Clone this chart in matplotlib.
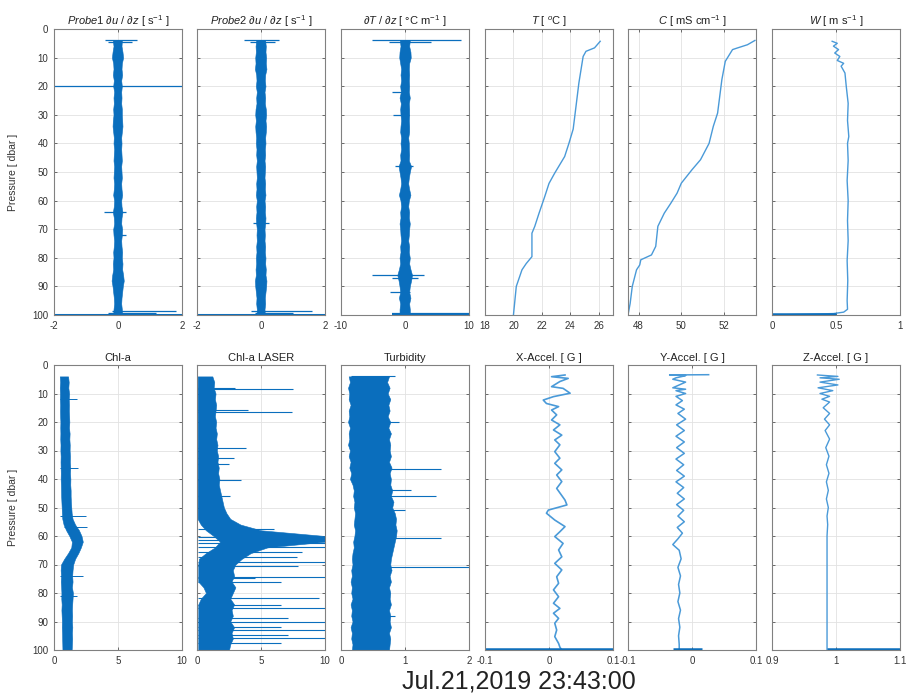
import matplotlib.pyplot as plt

plt.rcParams['font.family'] = ['Liberation Sans', 'DejaVu Sans']
plt.rcParams['mathtext.fontset'] = 'custom'
plt.rcParams['mathtext.rm'] = 'Liberation Sans'
plt.rcParams['mathtext.it'] = 'Liberation Sans:italic'

BLUE = '#0a6ebd'
LINE = '#4a9ad8'

# pressure grid for the noisy bands [dbar]
P_ENV = [4, 6, 8, 10, 12, 14, 16,
         18, 20, 22, 24, 26, 28, 30,
         32, 34, 36, 38, 40, 42, 44,
         46, 48, 50, 52, 54, 56, 58,
         60, 62, 64, 66, 68, 70, 72,
         74, 76, 78, 80, 82, 84, 86,
         88, 90, 92, 94, 96, 98, 100]

# shear probe 1 band edges
SH1_LO = [-0.16, -0.14, -0.17, -0.19, -0.15, -0.14, -0.16,
          -0.13, -0.15, -0.12, -0.14, -0.13, -0.15, -0.14,
          -0.16, -0.17, -0.15, -0.13, -0.14, -0.12, -0.13,
          -0.14, -0.12, -0.13, -0.14, -0.12, -0.13, -0.15,
          -0.12, -0.13, -0.16, -0.13, -0.12, -0.15, -0.14,
          -0.12, -0.13, -0.15, -0.14, -0.16, -0.15, -0.18,
          -0.20, -0.17, -0.15, -0.13, -0.12, -0.14, -0.15]
SH1_HI = [0.12, 0.11, 0.14, 0.16, 0.12, 0.11, 0.13,
          0.10, 0.12, 0.10, 0.11, 0.10, 0.12, 0.12,
          0.13, 0.14, 0.12, 0.10, 0.11, 0.10, 0.11,
          0.12, 0.10, 0.11, 0.12, 0.10, 0.11, 0.13,
          0.10, 0.11, 0.14, 0.11, 0.10, 0.13, 0.12,
          0.10, 0.11, 0.13, 0.12, 0.14, 0.13, 0.16,
          0.18, 0.15, 0.13, 0.11, 0.10, 0.12, 0.13]
# spikes: pressure, left end, right end
SH1_SP = [4, 4.6, 20, 64, 72, 98.5, 99.2, 100]
SH1_X0 = [-0.42, -0.30, -2, -0.45, -0.05, -0.2, -0.3, -2]
SH1_X1 = [0.60, 0.45, 2, 0.25, 0.25, 1.8, 1.2, 2]

# shear probe 2
SH2_LO = [-0.15, -0.17, -0.16, -0.18, -0.17, -0.19, -0.15,
          -0.14, -0.16, -0.13, -0.15, -0.14, -0.17, -0.18,
          -0.16, -0.18, -0.17, -0.15, -0.16, -0.14, -0.15,
          -0.13, -0.15, -0.14, -0.13, -0.15, -0.14, -0.16,
          -0.13, -0.15, -0.14, -0.16, -0.15, -0.13, -0.14,
          -0.13, -0.15, -0.14, -0.16, -0.15, -0.17, -0.16,
          -0.19, -0.18, -0.16, -0.14, -0.15, -0.13, -0.14]
SH2_HI = [0.13, 0.15, 0.14, 0.16, 0.15, 0.17, 0.13,
          0.12, 0.14, 0.11, 0.13, 0.12, 0.15, 0.16,
          0.14, 0.16, 0.15, 0.13, 0.14, 0.12, 0.13,
          0.11, 0.13, 0.12, 0.11, 0.13, 0.12, 0.14,
          0.11, 0.13, 0.12, 0.14, 0.13, 0.11, 0.12,
          0.11, 0.13, 0.12, 0.14, 0.13, 0.15, 0.14,
          0.17, 0.16, 0.14, 0.12, 0.13, 0.11, 0.12]
SH2_SP = [4, 4.6, 68, 98.5, 99.2, 100]
SH2_X0 = [-0.52, -0.35, -0.25, -0.3, -0.2, -2]
SH2_X1 = [0.57, 0.45, 0.25, 1.6, 1.0, 2]

# dT/dz
DT_LO = [-0.8, -0.7, -0.85, -0.9, -0.75, -0.6, -0.7,
         -0.6, -0.75, -0.65, -0.85, -0.65, -0.75, -0.7,
         -0.6, -0.7, -0.75, -0.6, -0.7, -0.6, -0.75,
         -0.7, -1.0, -0.85, -0.7, -0.6, -0.75, -0.95,
         -0.7, -0.6, -0.75, -0.7, -0.85, -0.75, -0.7,
         -0.6, -0.75, -0.7, -0.85, -0.75, -0.95, -1.2,
         -1.0, -0.85, -0.75, -0.95, -0.75, -0.85, -0.85]
DT_HI = [0.75, 0.65, 0.85, 0.9, 0.65, 0.6, 0.65,
         0.6, 0.65, 0.6, 0.75, 0.6, 0.65, 0.65,
         0.6, 0.65, 0.65, 0.5, 0.6, 0.6, 0.65,
         0.6, 0.95, 0.75, 0.6, 0.5, 0.65, 0.85,
         0.6, 0.5, 0.65, 0.6, 0.75, 0.65, 0.6,
         0.5, 0.65, 0.6, 0.75, 0.65, 0.85, 1.1,
         0.95, 0.75, 0.65, 0.85, 0.65, 0.75, 0.75]
DT_SP = [4, 4.6, 22, 30, 48, 86, 87, 92, 99.6]
DT_X0 = [-5.2, -2.5, -2.1, -1.8, -1.5, -5.2, -2.0, -2.3, -2]
DT_X1 = [8.8, 4.0, 0.5, 0.6, 1.2, 2.9, 2.1, 0.8, 10]

# temperature, conductivity, fall speed
T_P = [4.3, 6.6, 7.8, 9.6, 18.9, 27, 35, 40, 44.6, 50.4,
       54, 58.6, 64.4, 69, 71.4, 79.6, 82, 84.2, 90, 100]
T_V = [26.1, 25.7, 25.1, 24.9, 24.6, 24.4, 24.2, 23.9, 23.6, 22.9,
       22.5, 22.2, 21.8, 21.5, 21.3, 21.3, 20.9, 20.6, 20.2, 20.0]
C_P = [4, 5.5, 6.7, 7.2, 11.3, 17.7, 29.4, 34, 40, 45.7, 49.2, 53.9,
       57.4, 61, 64.4, 69, 76, 79, 80.7, 82.5, 84.2, 90, 96, 100]
C_V = [53.45, 53.1, 52.6, 52.4, 52.06, 51.9, 51.7, 51.5, 51.3, 50.9, 50.5, 50.0,
       49.8, 49.5, 49.2, 48.9, 48.8, 48.6, 48.1, 48.05, 47.9, 47.7, 47.6, 47.5]
W_P = [4.3, 5, 6, 7.2, 8.4, 9.6, 11, 12, 13, 15.4, 20, 26, 32, 37.6, 40,
       46, 53, 60, 67, 74, 81, 88, 95, 98, 99, 99.5, 100, 100]
W_V = [0.47, 0.51, 0.48, 0.52, 0.49, 0.53, 0.51, 0.56, 0.54, 0.57, 0.58, 0.595,
       0.59, 0.60, 0.59, 0.595, 0.587, 0.595, 0.59, 0.595, 0.587, 0.592, 0.587,
       0.59, 0.56, 0.48, 0.02, 0.0]

# Chl-a
CHL_LO = [0.45, 0.48, 0.45, 0.47, 0.46, 0.48, 0.47,
          0.48, 0.50, 0.49, 0.50, 0.49, 0.51, 0.50,
          0.52, 0.51, 0.52, 0.53, 0.52, 0.54, 0.55,
          0.56, 0.58, 0.60, 0.62, 0.65, 0.75, 0.95,
          1.20, 1.40, 1.35, 1.10, 0.80, 0.55, 0.52,
          0.55, 0.53, 0.56, 0.58, 0.57, 0.60, 0.58,
          0.60, 0.62, 0.61, 0.63, 0.64, 0.65, 0.66]
CHL_HI = [1.10, 1.15, 1.12, 1.18, 1.15, 1.17, 1.16,
          1.18, 1.20, 1.17, 1.22, 1.20, 1.23, 1.22,
          1.25, 1.24, 1.27, 1.25, 1.28, 1.27, 1.30,
          1.30, 1.32, 1.35, 1.38, 1.45, 1.65, 1.95,
          2.15, 2.25, 2.10, 1.90, 1.65, 1.50, 1.45,
          1.42, 1.45, 1.40, 1.48, 1.45, 1.42, 1.40,
          1.42, 1.40, 1.43, 1.40, 1.42, 1.40, 1.38]
CHL_SP = [12, 36, 53, 57, 74, 81]
CHL_X0 = [0.5, 0.5, 0.5, 0.8, 0.5, 0.5]
CHL_X1 = [1.8, 1.9, 2.5, 2.6, 2.3, 1.8]

# Chl-a LASER
LAS_LO = [0.05, 0.05, 0.05, 0.05, 0.05, 0.05, 0.05,
          0.05, 0.05, 0.05, 0.05, 0.05, 0.05, 0.05,
          0.05, 0.05, 0.05, 0.05, 0.05, 0.05, 0.05,
          0.05, 0.05, 0.05, 0.05, 0.05, 0.30, 0.70,
          1.30, 1.80, 1.40, 0.70, 0.15, 0.10, 0.10,
          0.10, 0.10, 0.50, 0.70, 0.30, 0.10, 0.10,
          0.10, 0.10, 0.10, 0.10, 0.10, 0.10, 0.10]
LAS_HI = [1.20, 1.35, 1.30, 1.45, 1.40, 1.50, 1.45,
          1.40, 1.50, 1.45, 1.55, 1.50, 1.60, 1.55,
          1.65, 1.60, 1.70, 1.65, 1.75, 1.70, 1.80,
          1.90, 2.00, 2.10, 2.30, 2.60, 3.40, 5.00,
          10.0, 10.0, 5.50, 4.20, 3.50, 3.00, 2.80,
          2.90, 2.70, 3.00, 2.80, 2.60, 2.90, 2.70,
          2.80, 2.60, 2.90, 2.70, 2.80, 2.60, 2.50]
LAS_SP = [8, 8.4, 15.8, 16.4, 29.2, 32.5, 34.7, 40.4, 46, 57.7, 60.5, 61.5,
          62.5, 63.7, 65.5, 67.3, 69, 70.5, 74.3, 74.9, 76, 81.9, 84.2, 85.4,
          88.9, 90, 91.8, 93, 94.7, 95.9, 97.7]
LAS_X1 = [3.0, 7.5, 4.0, 7.4, 3.8, 2.9, 2.5, 3.4, 2.6, 6.0, 10, 10,
          10, 10, 8.2, 7.8, 10, 7.9, 10, 4.5, 6.6, 9.5, 6.6, 10,
          7.1, 10, 6.6, 10, 7.1, 10, 6.6]

# Turbidity
TRB_LO = [0.12, 0.14, 0.11, 0.13, 0.12, 0.15, 0.12,
          0.13, 0.11, 0.14, 0.12, 0.13, 0.11, 0.14,
          0.12, 0.15, 0.13, 0.16, 0.14, 0.18, 0.20,
          0.19, 0.21, 0.20, 0.22, 0.21, 0.20, 0.22,
          0.21, 0.19, 0.20, 0.18, 0.17, 0.18, 0.16,
          0.17, 0.15, 0.17, 0.16, 0.18, 0.15, 0.17,
          0.16, 0.18, 0.15, 0.17, 0.16, 0.18, 0.17]
TRB_HI = [0.75, 0.72, 0.76, 0.73, 0.77, 0.74, 0.76,
          0.73, 0.77, 0.74, 0.78, 0.75, 0.77, 0.76,
          0.78, 0.75, 0.79, 0.76, 0.78, 0.77, 0.80,
          0.78, 0.82, 0.80, 0.84, 0.86, 0.85, 0.87,
          0.86, 0.84, 0.82, 0.80, 0.78, 0.77, 0.79,
          0.76, 0.78, 0.75, 0.77, 0.76, 0.78, 0.75,
          0.77, 0.76, 0.78, 0.75, 0.77, 0.76, 0.75]
TRB_SP = [3.8, 20, 36.5, 43.9, 45.8, 50.9, 60.8, 70.8, 88]
TRB_X0 = [0.15, 0.3, 0.5, 0.5, 0.5, 0.5, 0.5, 0.5, 0.3]
TRB_X1 = [0.85, 0.9, 1.57, 1.1, 1.49, 1.0, 1.57, 2.0, 0.85]

# accelerometers
XA_P = [3.5, 4.1, 4.7, 5.8, 7.6, 8.2, 9.9, 11.1, 12.3, 13.5, 14.6, 15.8, 17.5,
        19.3, 21, 22.8, 24.6, 26.3, 28, 30.4, 32.7, 34.5, 36.8, 38.6, 40.9, 43.3,
        47.4, 49.1, 50.9, 52, 54.4, 56.7, 58.5, 60.2, 62.6, 64.9, 67.3, 69.6, 71.9,
        74.3, 76.6, 78.9, 81.3, 83.6, 85.4, 87.1, 88.9, 90.6, 93, 95.3, 97.7, 99, 100]
XA_V = [0.025, 0.004, 0.03, 0.017, 0.004, 0.022, 0.033, 0.007, -0.009, -0.004, 0.015,
        0.004, 0.012, 0.004, 0.017, 0.007, 0.02, 0.009, 0.017, 0.009, 0.017, 0.009,
        0.02, 0.012, 0.02, 0.012, 0.025, 0.028, -0.001, -0.004, 0.009, 0.025, 0.017,
        0.009, 0.022, 0.015, 0.02, 0.009, 0.02, 0.012, 0.015, 0.007, 0.015, 0.007,
        0.017, 0.007, 0.015, 0.009, 0.012, 0.009, 0.015, 0.017, 0.02]
YA_P = [3.4, 3.5, 3.7, 4, 4.5, 5, 6, 7, 8, 8.5, 9, 10, 11, 12.5, 14, 15.5, 17, 19,
        21, 23, 25, 27, 29, 31, 33, 35, 37, 39, 41, 43, 45, 47, 49, 51, 53, 55, 57,
        59, 61, 63, 65, 68, 71, 74, 77, 80, 83, 86, 89, 92, 95, 98, 100]
YA_V = [0.026, -0.035, -0.01, -0.015, -0.025, -0.03, -0.01, -0.02, -0.03, -0.01,
        -0.025, -0.01, -0.025, -0.015, -0.025, -0.012, -0.022, -0.01, -0.024, -0.012,
        -0.025, -0.012, -0.024, -0.012, -0.025, -0.013, -0.024, -0.012, -0.025,
        -0.013, -0.023, -0.012, -0.024, -0.013, -0.022, -0.012, -0.023, -0.015,
        -0.022, -0.03, -0.02, -0.017, -0.022, -0.018, -0.021, -0.019, -0.022,
        -0.018, -0.021, -0.019, -0.021, -0.02, -0.02]
YA_BOT = [-0.03, 0.015]
ZA_P = [3.5, 4, 4.5, 5, 6, 7, 8, 9, 10, 11, 12, 13, 15, 17, 19, 21, 23, 26, 29,
        32, 35, 38, 41, 44, 47, 50, 53, 56, 60, 70, 80, 90, 100]
ZA_V = [0.971, 1.003, 0.975, 1.005, 0.975, 1.003, 0.972, 0.995, 0.975, 0.99, 0.978,
        0.99, 0.98, 0.99, 0.982, 0.99, 0.983, 0.99, 0.984, 0.989, 0.985, 0.989,
        0.985, 0.988, 0.985, 0.988, 0.986, 0.987, 0.986, 0.986, 0.986, 0.986, 0.986]

# ---- layout (pixels of the 909x700 figure) ----
FW, FH = 909, 700
LEFTS = [54, 197, 341, 485, 628, 772]
AXW = 128
ROWS = [(29, 315), (365, 650)]

fig = plt.figure(figsize=(FW / 100, FH / 100), dpi=100)


def make_ax(row, col, xlim, xticks, xlabels, title):
    top, bot = ROWS[row]
    ax = fig.add_axes([LEFTS[col] / FW, 1 - bot / FH, AXW / FW, (bot - top) / FH])
    ax.set_xlim(xlim)
    ax.set_ylim(100, 0)
    ax.set_xticks(xticks)
    ax.set_xticklabels(xlabels)
    ax.set_yticks(range(0, 101, 10))
    if col == 0:
        ax.set_yticklabels([str(v) for v in range(0, 101, 10)])
    else:
        ax.set_yticklabels([])
    ax.tick_params(direction='in', top=True, right=True, length=2.5, width=0.6,
                   labelsize=7, colors='#555555', labelcolor='#333333', pad=4)
    ax.grid(True, color='#e2e2e2', lw=0.6)
    ax.set_axisbelow(True)
    for s in ax.spines.values():
        s.set_color('#808080')
        s.set_linewidth(0.8)
    ax.set_title(title, fontsize=8, pad=3, color='#222222')
    return ax


def band(ax, lo, hi):
    ax.fill_betweenx(P_ENV, lo, hi, color=BLUE, lw=0.4)


# top row
ax = make_ax(0, 0, (-2, 2), [-2, 0, 2], ['-2', '0', '2'],
             r'$\it{Probe1}\ \partial u\ /\ \partial z$ [ s$^{-1}$ ]')
band(ax, SH1_LO, SH1_HI)
ax.hlines(SH1_SP[:-1], SH1_X0[:-1], SH1_X1[:-1], color=BLUE, lw=0.9)
ax.hlines(SH1_SP[-1], SH1_X0[-1], SH1_X1[-1], color=BLUE, lw=2.2)

ax = make_ax(0, 1, (-2, 2), [-2, 0, 2], ['-2', '0', '2'],
             r'$\it{Probe2}\ \partial u\ /\ \partial z$ [ s$^{-1}$ ]')
band(ax, SH2_LO, SH2_HI)
ax.hlines(SH2_SP[:-1], SH2_X0[:-1], SH2_X1[:-1], color=BLUE, lw=0.9)
ax.hlines(SH2_SP[-1], SH2_X0[-1], SH2_X1[-1], color=BLUE, lw=2.2)

ax = make_ax(0, 2, (-10, 10), [-10, 0, 10], ['-10', '0', '10'],
             r'$\partial T\ /\ \partial z$ [ °C m$^{-1}$ ]')
band(ax, DT_LO, DT_HI)
ax.hlines(DT_SP[:-1], DT_X0[:-1], DT_X1[:-1], color=BLUE, lw=0.9)
ax.hlines(DT_SP[-1], DT_X0[-1], DT_X1[-1], color=BLUE, lw=1.6)

ax = make_ax(0, 3, (18, 27), [18, 20, 22, 24, 26], ['18', '20', '22', '24', '26'],
             r'$T$ [ $^o$C ]')
ax.plot(T_V, T_P, color=LINE, lw=1.0)

ax = make_ax(0, 4, (47.5, 53.5), [48, 50, 52], ['48', '50', '52'],
             r'$C$ [ mS cm$^{-1}$ ]')
ax.plot(C_V, C_P, color=LINE, lw=1.0)

ax = make_ax(0, 5, (0, 1), [0, 0.5, 1], ['0', '0.5', '1'],
             r'$W$ [ m s$^{-1}$ ]')
ax.plot(W_V, W_P, color=LINE, lw=1.0)
ax.hlines(99.8, 0, 0.5, color=BLUE, lw=1.8)

# bottom row
ax = make_ax(1, 0, (0, 10), [0, 5, 10], ['0', '5', '10'], 'Chl-a')
band(ax, CHL_LO, CHL_HI)
ax.hlines(CHL_SP, CHL_X0, CHL_X1, color=BLUE, lw=0.7)

ax = make_ax(1, 1, (0, 10), [0, 5, 10], ['0', '5', '10'], 'Chl-a LASER')
band(ax, LAS_LO, LAS_HI)
ax.hlines(LAS_SP, 0.1, LAS_X1, color=BLUE, lw=0.8)

ax = make_ax(1, 2, (0, 2), [0, 1, 2], ['0', '1', '2'], 'Turbidity')
band(ax, TRB_LO, TRB_HI)
ax.hlines(TRB_SP, TRB_X0, TRB_X1, color=BLUE, lw=0.8)

ax = make_ax(1, 3, (-0.1, 0.1), [-0.1, 0, 0.1], ['-0.1', '0', '0.1'], 'X-Accel. [ G ]')
ax.plot(XA_V, XA_P, color=LINE, lw=1.2)
ax.hlines(99.8, -0.1, 0.1, color=BLUE, lw=1.8)

ax = make_ax(1, 4, (-0.1, 0.1), [-0.1, 0, 0.1], ['-0.1', '0', '0.1'], 'Y-Accel. [ G ]')
ax.plot(YA_V, YA_P, color=LINE, lw=1.1)
ax.hlines(99.8, YA_BOT[0], YA_BOT[1], color=BLUE, lw=1.8)

ax = make_ax(1, 5, (0.9, 1.1), [0.9, 1.0, 1.1], ['0.9', '1', '1.1'], 'Z-Accel. [ G ]')
ax.plot(ZA_V, ZA_P, color=LINE, lw=1.0)
ax.hlines(99.8, ZA_V[-1], 1.1, color=BLUE, lw=1.8)

for top, bot in ROWS:
    fig.text(13 / FW, 1 - (top + bot) / 2 / FH, 'Pressure [ dbar ]', rotation=90,
             ha='center', va='center', fontsize=7.5, color='#333333')

fig.text(519 / FW, 1 - 682 / FH, 'Jul.21,2019 23:43:00', ha='center', va='center',
         fontsize=18, color='#222222')

fig.savefig('out.png', dpi=100)
